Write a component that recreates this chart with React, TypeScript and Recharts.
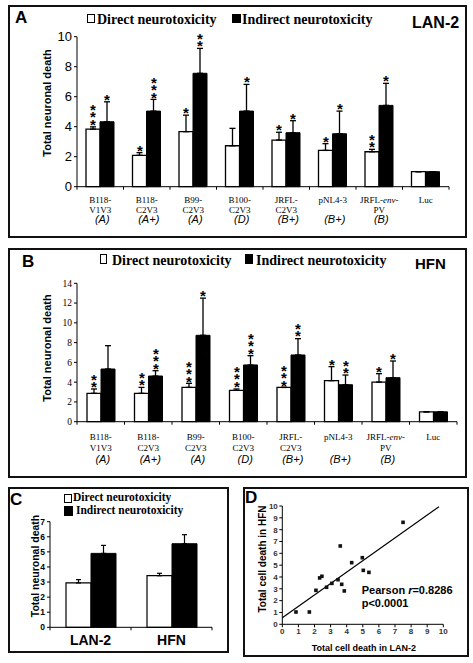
import React from 'react';
import {
  BarChart, Bar, XAxis, YAxis, ErrorBar, LabelList,
  ScatterChart, Scatter, ReferenceLine,
} from 'recharts';

// HIV env constructs (three text rows under each pair of bars)
const STRAINS = ['B118-', 'B118-', 'B99-', 'B100-', 'JRFL-', 'pNL4-3', 'JRFL-env-', 'Luc'];
const STRAIN_SUB = ['V1V3', 'C2V3', 'C2V3', 'C2V3', 'C2V3', '', 'PV', ''];
const CLADES = ['(A)', '(A+)', '(A)', '(D)', '(B+)', '(B+)', '(B)', ''];

// panel A, LAN-2 cells
const LAN2_DIRECT = [3.84, 2.09, 3.67, 2.73, 3.11, 2.42, 2.33, 1.0];
const LAN2_DIRECT_SD = [0.15, 0.18, 1.1, 1.16, 0.52, 0.45, 0.16, 0];
const LAN2_DIRECT_SIG = ['***', '*', '*', '', '*', '*', '**', ''];
const LAN2_INDIRECT = [4.33, 5.04, 7.56, 5.04, 3.6, 3.53, 5.42, 1.0];
const LAN2_INDIRECT_SD = [1.33, 0.78, 1.66, 1.78, 0.8, 1.51, 1.47, 0];
const LAN2_INDIRECT_SIG = ['*', '***', '**', '*', '*', '*', '*', ''];

// panel B, HFN cells
const HFN_DIRECT = [2.87, 2.87, 3.47, 3.17, 3.47, 4.15, 4.01, 1.0];
const HFN_DIRECT_SD = [0.44, 0.6, 0.41, 0.14, 0, 1.42, 0.85, 0];
const HFN_DIRECT_SIG = ['**', '**', '***', '***', '***', '*', '*', ''];
const HFN_INDIRECT = [5.33, 4.62, 8.74, 5.74, 6.75, 3.74, 4.45, 1.0];
const HFN_INDIRECT_SD = [2.36, 0.54, 3.76, 0.94, 1.65, 0.98, 1.69, 0];
const HFN_INDIRECT_SIG = ['', '***', '*', '***', '**', '**', '*', ''];

// panel C, means over all constructs
const CELL_LINES = ['LAN-2', 'HFN'];
const MEAN_DIRECT = [2.94, 3.42];
const MEAN_DIRECT_SEM = [0.22, 0.16];
const MEAN_INDIRECT = [4.9, 5.54];
const MEAN_INDIRECT_SEM = [0.53, 0.6];

// panel D, correlation
const LAN2_DEATH = [0.85, 1.68, 2.09, 2.32, 2.46, 2.75, 3.08, 3.46, 3.6, 3.69, 3.85, 4.31, 4.97, 5.03, 5.38, 7.5];
const HFN_DEATH = [1.04, 1.04, 2.87, 3.92, 4.06, 3.13, 3.46, 3.77, 6.62, 3.38, 2.82, 5.21, 5.63, 4.56, 4.39, 8.62];
const FIT_X = [0, 9.73];
const FIT_Y = [0.56, 9.94];

const SANS = '"Liberation Sans", Arial, sans-serif';
const SERIF = '"Liberation Serif", "Times New Roman", serif';

const buildRows = (d: number[], dSd: number[], dSig: string[], ind: number[], iSd: number[], iSig: string[]) =>
  STRAINS.map((s, i) => ({
    key: s + STRAIN_SUB[i],
    direct: d[i],
    directErr: [0, dSd[i]],
    directSig: dSig[i],
    indirect: ind[i],
    indirectErr: [0, iSd[i]],
    indirectSig: iSig[i],
  }));

const lanRows = buildRows(LAN2_DIRECT, LAN2_DIRECT_SD, LAN2_DIRECT_SIG, LAN2_INDIRECT, LAN2_INDIRECT_SD, LAN2_INDIRECT_SIG);
const hfnRows = buildRows(HFN_DIRECT, HFN_DIRECT_SD, HFN_DIRECT_SIG, HFN_INDIRECT, HFN_INDIRECT_SD, HFN_INDIRECT_SIG);

const summaryRows = CELL_LINES.map((c, i) => ({
  cell: c,
  direct: MEAN_DIRECT[i],
  directErr: [0, MEAN_DIRECT_SEM[i]],
  indirect: MEAN_INDIRECT[i],
  indirectErr: [0, MEAN_INDIRECT_SEM[i]],
}));

const points = LAN2_DEATH.map((x, i) => ({ x, y: HFN_DEATH[i] }));

// stacked asterisks sitting above the error bar cap, one text per bar
const starLabel = (vals: number[], sds: number[]) => (props: any) => {
  const vb = props.viewBox || {};
  const x = props.x ?? vb.x;
  const y = props.y ?? vb.y;
  const w = props.width ?? vb.width;
  const h = props.height ?? vb.height;
  const i = props.index;
  if (!props.value || i == null) return null;
  const perUnit = h / vals[i];
  const capY = y - sds[i] * perUnit;
  const cx = Math.round(x + w / 2);
  const stars = String(props.value).split('');
  const baseY = Math.round(capY + 3 - (stars.length - 1) * 7.3);
  return (
    <text x={cx} y={baseY} textAnchor="middle" fontFamily={SANS} fontWeight="bold" fontSize={15}
      style={{ fill: '#000', stroke: 'none' }}>
      {stars.map((s, k) => (
        <tspan key={k} x={cx} dy={k === 0 ? 0 : 7.3}>{s}</tspan>
      ))}
    </text>
  );
};

const withEnv = (s: string) => {
  const parts = s.split('env');
  if (parts.length < 2) return s;
  return (<>{parts[0]}<tspan fontStyle="italic">env</tspan>{parts[1]}</>);
};

const StrainTick = (props: any) => {
  const { x, y, band, rows } = props;
  const i = props.index ?? props.payload?.index ?? 0;
  return (
    <g>
      <line x1={x - band / 2} y1={y} x2={x - band / 2} y2={y + 3} stroke="#000" />
      {i === STRAINS.length - 1 && <line x1={x + band / 2} y1={y} x2={x + band / 2} y2={y + 3} stroke="#000" />}
      <text x={x} y={y + rows[0]} textAnchor="middle" fontFamily={SERIF} fontSize={9} fill="#000">{withEnv(STRAINS[i])}</text>
      {STRAIN_SUB[i] && (
        <text x={x} y={y + rows[1]} textAnchor="middle" fontFamily={SERIF} fontSize={9} fill="#000">{STRAIN_SUB[i]}</text>
      )}
      {CLADES[i] && (
        <text x={x + 2} y={y + rows[2]} textAnchor="middle" fontFamily={SANS} fontStyle="italic" fontSize={11} fill="#000">{CLADES[i]}</text>
      )}
    </g>
  );
};

const CellTick = (props: any) => {
  const { x, y, band } = props;
  const i = props.index ?? props.payload?.index ?? 0;
  return (
    <g>
      <line x1={x - band / 2} y1={y} x2={x - band / 2} y2={y + 3} stroke="#000" />
      {i === CELL_LINES.length - 1 && <line x1={x + band / 2} y1={y} x2={x + band / 2} y2={y + 3} stroke="#000" />}
      <text x={x} y={y + 18} textAnchor="middle" fontFamily={SANS} fontWeight="bold" fontSize={14} fill="#000">{CELL_LINES[i]}</text>
    </g>
  );
};

const Txt = ({ x, cy, size, text, bold = true, family = SANS, italic = false }: any) => (
  <div style={{
    position: 'absolute', left: x, top: cy - size * 0.5, fontSize: size, lineHeight: `${size}px`,
    fontFamily: family, fontWeight: bold ? 'bold' : 'normal', fontStyle: italic ? 'italic' : 'normal',
    whiteSpace: 'nowrap', color: '#000',
  }}>{text}</div>
);

const VLabel = ({ cx, cy, size, text }: any) => (
  <div style={{
    position: 'absolute', left: cx, top: cy, transform: 'translate(-50%, -50%) rotate(-90deg)',
    fontFamily: SANS, fontWeight: 'bold', fontSize: size, lineHeight: 1, whiteSpace: 'nowrap', color: '#000',
  }}>{text}</div>
);

const Box = ({ l, t, r, b }: any) => (
  <div style={{ position: 'absolute', left: l, top: t, width: r - l, height: b - t, border: '2px solid #111', boxSizing: 'border-box' }} />
);

const Swatch = ({ l, t, w, h, dark }: any) => (
  <div style={{ position: 'absolute', left: l, top: t, width: w, height: h, background: dark ? '#000' : '#fff', border: '1px solid #000', boxSizing: 'border-box' }} />
);

const StrainChart = ({ rows, top, height, margin, yMax, yTicks, band, tickRows, tickFont, direct, directSd, indirect, indirectSd }: any) => (
  <div style={{ position: 'absolute', left: 0, top }}>
    <BarChart width={473} height={height} data={rows} margin={margin} barGap={0}>
      <XAxis dataKey="key" interval={0} height={50} tickLine={false} tickSize={0} tickMargin={0}
        axisLine={{ stroke: '#000' }} tick={<StrainTick band={band} rows={tickRows} />} />
      <YAxis domain={[0, yMax]} ticks={yTicks} width={40} tickSize={3} tickMargin={2}
        axisLine={{ stroke: '#000' }} tickLine={{ stroke: '#000' }} tick={tickFont} />
      <Bar dataKey="direct" fill="#fff" stroke="#000" strokeWidth={1.3} barSize={14} isAnimationActive={false}>
        <ErrorBar dataKey="directErr" width={3} stroke="#000" strokeWidth={1.3} isAnimationActive={false} />
        <LabelList dataKey="directSig" content={starLabel(direct, directSd)} />
      </Bar>
      <Bar dataKey="indirect" fill="#000" stroke="#000" strokeWidth={1} barSize={14} isAnimationActive={false}>
        <ErrorBar dataKey="indirectErr" width={3} stroke="#000" strokeWidth={1.3} isAnimationActive={false} />
        <LabelList dataKey="indirectSig" content={starLabel(indirect, indirectSd)} />
      </Bar>
    </BarChart>
  </div>
);

export default function App() {
  return (
    <div style={{ position: 'absolute', left: 0, top: 0, width: 473, height: 663, background: '#fff', overflow: 'hidden' }}>
      <Box l={8} t={5} r={467} b={238} />
      <Box l={8} t={248} r={467} b={478} />
      <Box l={8} t={487} r={229} b={653} />
      <Box l={243} t={487} r={469} b={657} />

      {/* A: LAN-2 */}
      <StrainChart rows={lanRows} top={0} height={240}
        margin={{ top: 36.7, right: 24, bottom: 3.3, left: 37 }}
        yMax={10} yTicks={[0, 2, 4, 6, 8, 10]} band={46.5} tickRows={[16, 26, 36.3]}
        tickFont={{ fontFamily: SANS, fontSize: 13, fill: '#000' }}
        direct={LAN2_DIRECT} directSd={LAN2_DIRECT_SD} indirect={LAN2_INDIRECT} indirectSd={LAN2_INDIRECT_SD} />
      <Txt x={15} cy={17.5} size={17} text="A" />
      <Txt x={412} cy={22.5} size={16} text="LAN-2" />
      <Swatch l={87} t={14} w={8} h={9} />
      <Txt x={97} cy={19.5} size={14} family={SERIF} text="Direct neurotoxicity" />
      <Swatch l={232} t={14} w={9} h={9} dark />
      <Txt x={242} cy={19.5} size={14} family={SERIF} text="Indirect neurotoxicity" />
      <VLabel cx={47} cy={103} size={11} text="Total neuronal death" />

      {/* B: HFN */}
      <StrainChart rows={hfnRows} top={245} height={235}
        margin={{ top: 38.3, right: 16, bottom: 8.3, left: 37 }}
        yMax={14} yTicks={[0, 2, 4, 6, 8, 10, 12, 14]} band={47.5} tickRows={[18.6, 29.6, 40.8]}
        tickFont={{ fontFamily: SERIF, fontSize: 9.5, fill: '#000' }}
        direct={HFN_DIRECT} directSd={HFN_DIRECT_SD} indirect={HFN_INDIRECT} indirectSd={HFN_INDIRECT_SD} />
      <Txt x={22} cy={261.5} size={17} text="B" />
      <Txt x={415} cy={263.5} size={15} text="HFN" />
      <Swatch l={100} t={254} w={7} h={10} />
      <Txt x={112} cy={261} size={14} family={SERIF} text="Direct neurotoxicity" />
      <Swatch l={245} t={254} w={8} h={10} dark />
      <Txt x={256} cy={261} size={14} family={SERIF} text="Indirect neurotoxicity" />
      <VLabel cx={47} cy={347.5} size={11} text="Total neuronal death" />

      {/* C: summary */}
      <div style={{ position: 'absolute', left: 0, top: 480 }}>
        <BarChart width={235} height={180} data={summaryRows} margin={{ top: 41.7, right: 23, bottom: 7.7, left: 25 }} barGap={0}>
          <XAxis dataKey="cell" interval={0} height={25} tickLine={false} tickSize={0} tickMargin={0}
            axisLine={{ stroke: '#000' }} tick={<CellTick band={81} />} />
          <YAxis domain={[0, 7]} ticks={[0, 1, 2, 3, 4, 5, 6, 7]} width={25} tickSize={3} tickMargin={2}
            axisLine={{ stroke: '#000' }} tickLine={{ stroke: '#000' }}
            tick={{ fontFamily: SANS, fontSize: 8.5, fontWeight: 'bold', fill: '#000' }} />
          <Bar dataKey="direct" fill="#fff" stroke="#000" strokeWidth={1.2} barSize={25} isAnimationActive={false}>
            <ErrorBar dataKey="directErr" width={2.5} stroke="#000" strokeWidth={1.2} isAnimationActive={false} />
          </Bar>
          <Bar dataKey="indirect" fill="#000" stroke="#000" strokeWidth={1} barSize={25} isAnimationActive={false}>
            <ErrorBar dataKey="indirectErr" width={2.5} stroke="#000" strokeWidth={1.2} isAnimationActive={false} />
          </Bar>
        </BarChart>
      </div>
      <Txt x={10} cy={499} size={17} text="C" />
      <Swatch l={64} t={494} w={8} h={9} />
      <Txt x={73} cy={498} size={11.5} family={SERIF} text="Direct neurotoxicity" />
      <Swatch l={64} t={506} w={9} h={10} dark />
      <Txt x={76} cy={511} size={11.5} family={SERIF} text="Indirect neurotoxicity" />
      <VLabel cx={35} cy={566} size={10.5} text="Total neuronal death" />

      {/* D: correlation */}
      <div style={{ position: 'absolute', left: 240, top: 485 }}>
        <ScatterChart width={232} height={170} margin={{ top: 21, right: 28.7, bottom: 18.7, left: 20.3 }}>
          <XAxis type="number" dataKey="x" domain={[0, 10]} ticks={[0, 1, 2, 3, 4, 5, 6, 7, 8, 9, 10]} interval={0}
            height={12} tickSize={3} tickMargin={1} axisLine={{ stroke: '#000' }} tickLine={{ stroke: '#000' }}
            tick={{ fontFamily: SANS, fontSize: 8, fontWeight: 'bold', fill: '#333' }} />
          <YAxis type="number" dataKey="y" domain={[0, 10]} ticks={[0, 1, 2, 3, 4, 5, 6, 7, 8, 9, 10]} interval={0}
            width={22} tickSize={3} tickMargin={1.5} axisLine={{ stroke: '#000' }} tickLine={{ stroke: '#000' }}
            tick={{ fontFamily: SANS, fontSize: 8, fontWeight: 'bold', fill: '#333' }} />
          <ReferenceLine segment={[{ x: FIT_X[0], y: FIT_Y[0] }, { x: FIT_X[1], y: FIT_Y[1] }]} stroke="#000" strokeWidth={1.2} />
          <Scatter data={points} isAnimationActive={false}
            shape={(p: any) => <rect x={p.cx - 1.8} y={p.cy - 1.8} width={3.6} height={3.6} fill="#111" />} />
        </ScatterChart>
      </div>
      <Txt x={245} cy={497.5} size={17} text="D" />
      <VLabel cx={262.7} cy={559} size={10} text="Total cell death in HFN" />
      <div style={{ position: 'absolute', left: 363.8, top: 647.7, transform: 'translate(-50%, -50%)', fontFamily: SANS, fontWeight: 'bold', fontSize: 9, whiteSpace: 'nowrap' }}>
        Total cell death in LAN-2
      </div>
      <div style={{ position: 'absolute', left: 361.7, top: 584, fontFamily: SANS, fontWeight: 'bold', fontSize: 11, lineHeight: '13px', whiteSpace: 'nowrap' }}>
        Pearson <i>r</i>=0.8286<br />p&lt;0.0001
      </div>
    </div>
  );
}
